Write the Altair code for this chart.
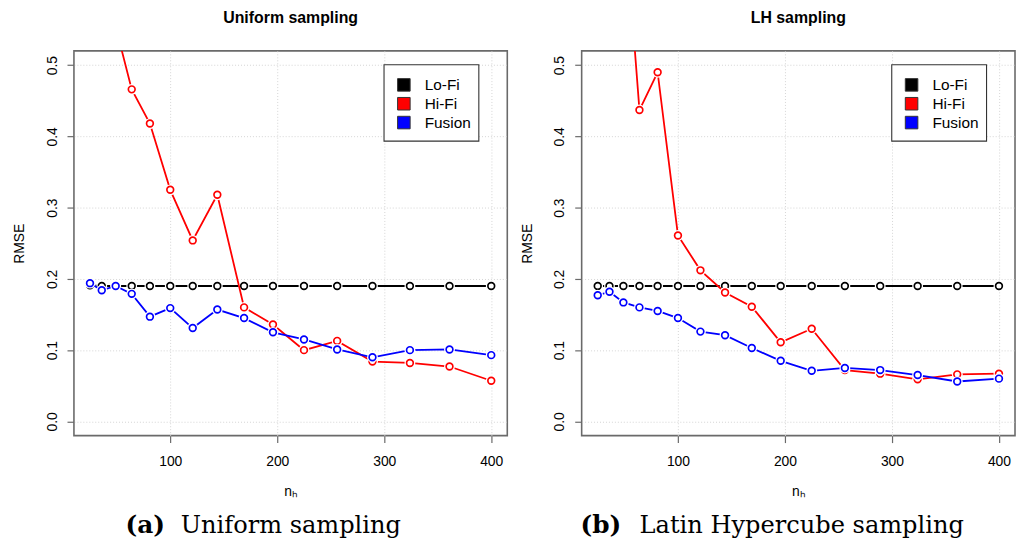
import altair as alt
import pandas as pd

# ---------------- data ----------------
n_h = [25, 36, 49, 64, 81, 100, 121, 144, 169, 196, 225, 256, 289, 324, 361, 400]

series_names = ["Lo-Fi", "Hi-Fi", "Fusion"]
series_colors = ["#000000", "#ff0000", "#0000ff"]

# Uniform sampling
uni_lofi = [0.191, 0.190, 0.190, 0.190, 0.190, 0.190, 0.190, 0.190,
            0.190, 0.190, 0.190, 0.190, 0.190, 0.190, 0.190, 0.190]
uni_hifi = [0.95, 0.75, 0.554, 0.466, 0.418, 0.325, 0.254, 0.318,
            0.160, 0.136, 0.100, 0.113, 0.084, 0.082, 0.077, 0.057]
uni_fusion = [0.194, 0.184, 0.190, 0.179, 0.147, 0.159, 0.131, 0.157,
              0.145, 0.125, 0.115, 0.101, 0.090, 0.100, 0.101, 0.093]

# Latin Hypercube sampling
lh_lofi = [0.190, 0.190, 0.190, 0.190, 0.190, 0.190, 0.190, 0.190,
           0.190, 0.190, 0.190, 0.190, 0.190, 0.190, 0.190, 0.190]
lh_hifi = [1.00, 0.85, 0.73, 0.437, 0.490, 0.261, 0.212, 0.181,
           0.161, 0.111, 0.130, 0.072, 0.067, 0.059, 0.066, 0.067]
lh_fusion = [0.177, 0.182, 0.167, 0.160, 0.155, 0.145, 0.126, 0.121,
             0.103, 0.085, 0.071, 0.075, 0.072, 0.065, 0.056, 0.060]

panel_titles = ["Uniform sampling", "LH sampling"]
caption_tags = ["(a)", "(b)"]
caption_texts = ["Uniform sampling", "Latin Hypercube sampling"]

x_ticks = [100, 200, 300, 400]
y_ticks = [0.0, 0.1, 0.2, 0.3, 0.4, 0.5]
x_domain = [10, 415]
y_domain = [-0.02, 0.52]

# ---------------- layout / style ----------------
W, H = 437, 388
FONT = "Liberation Sans"
SERIF = "DejaVu Serif"
FRAME = "#6a6a6a"


def long_frame(lofi, hifi, fusion):
    rows = []
    for name, vals in zip(series_names, [lofi, hifi, fusion]):
        for x, v in zip(n_h, vals):
            rows.append({"n": x, "rmse": v, "series": name})
    return pd.DataFrame(rows)


def panel(df, title, tag, caption, tag_x, cap_x):
    base = alt.Chart(df)
    xenc = alt.X("n:Q", scale=alt.Scale(domain=x_domain, nice=False, zero=False),
                 axis=alt.Axis(values=x_ticks, title="nₕ", format="d"))
    yenc = alt.Y("rmse:Q", scale=alt.Scale(domain=y_domain, nice=False, zero=False),
                 axis=alt.Axis(values=y_ticks, title="RMSE", format=".1f"))

    layers = []
    for name, col in zip(series_names, series_colors):
        sub = base.transform_filter(alt.datum.series == name)
        # line, white gap around each point (R type="b"), open circle
        layers.append(sub.mark_line(clip=True, strokeWidth=1.8, color=col)
                      .encode(x=xenc, y=yenc))
        layers.append(sub.mark_point(clip=True, shape="circle", filled=True,
                                     size=120, color="white", opacity=1)
                      .encode(x=xenc, y=yenc))
        layers.append(sub.mark_point(clip=True, shape="circle", filled=False,
                                     size=46, strokeWidth=1.7, color=col, opacity=1)
                      .encode(x=xenc, y=yenc))

    # legend drawn inside the plot (top-right), as in the R figure
    one = pd.DataFrame({"k": [0]})
    layers.append(alt.Chart(one).mark_rect(fill="white", stroke="#333333",
                                           strokeWidth=1.1).encode(
        x=alt.value(312.7), x2=alt.value(408.3), y=alt.value(14), y2=alt.value(91)))
    for i, (name, col) in enumerate(zip(series_names, series_colors)):
        lab = pd.DataFrame({"label": [name]})
        layers.append(alt.Chart(lab).mark_square(size=160, fill=col, stroke="#333333",
                                                  strokeWidth=1, opacity=1).encode(
            x=alt.value(332.7), y=alt.value(34.3 + 19 * i)))
        layers.append(alt.Chart(lab).mark_text(font=FONT, fontSize=15.5, align="left",
                                                baseline="middle", color="black").encode(
            text="label:N", x=alt.value(353.7), y=alt.value(34.8 + 19 * i)))

    cap_df = pd.DataFrame({"tag": [tag], "cap": [caption]})
    layers.append(alt.Chart(cap_df).mark_text(
        font=SERIF, fontSize=25, fontWeight="bold", align="center",
        baseline="alphabetic", color="black").encode(
        text="tag:N", x=alt.value(tag_x), y=alt.value(486)))
    layers.append(alt.Chart(cap_df).mark_text(
        font=SERIF, fontSize=24.3, align="left",
        baseline="alphabetic", color="black").encode(
        text="cap:N", x=alt.value(cap_x), y=alt.value(486)))

    return alt.layer(*layers).properties(
        width=W, height=H,
        title=alt.TitleParams(title, font=FONT, fontSize=16, fontWeight="bold",
                              anchor="middle", offset=25.5, color="black"),
    )


left = panel(long_frame(uni_lofi, uni_hifi, uni_fusion), panel_titles[0],
             caption_tags[0], caption_texts[0], 72, 107.7)
right = panel(long_frame(lh_lofi, lh_hifi, lh_fusion), panel_titles[1],
              caption_tags[1], caption_texts[1], 19.4, 58.4)

chart = alt.hconcat(left, right, spacing=11).properties(
    padding={"left": 3.5, "top": -2, "right": 0, "bottom": -1}
).configure_view(
    stroke=FRAME, strokeWidth=1.6
).configure_axis(
    grid=True, gridColor="#d4d4d4", gridDash=[1, 2], gridWidth=1,
    domain=False, ticks=True, tickColor=FRAME, tickSize=7, tickWidth=1.2,
    labelFont=FONT, labelFontSize=14, labelColor="black",
    titleFont=FONT, titleFontSize=14, titleFontWeight="normal", titleColor="black",
).configure_axisX(
    labelPadding=12, titlePadding=16,
).configure_axisY(
    labelAngle=-90, labelAlign="center", labelBaseline="bottom", labelPadding=8,
    titlePadding=19,
)

chart.save("out.html", embed_options={"renderer": "svg", "actions": False})
